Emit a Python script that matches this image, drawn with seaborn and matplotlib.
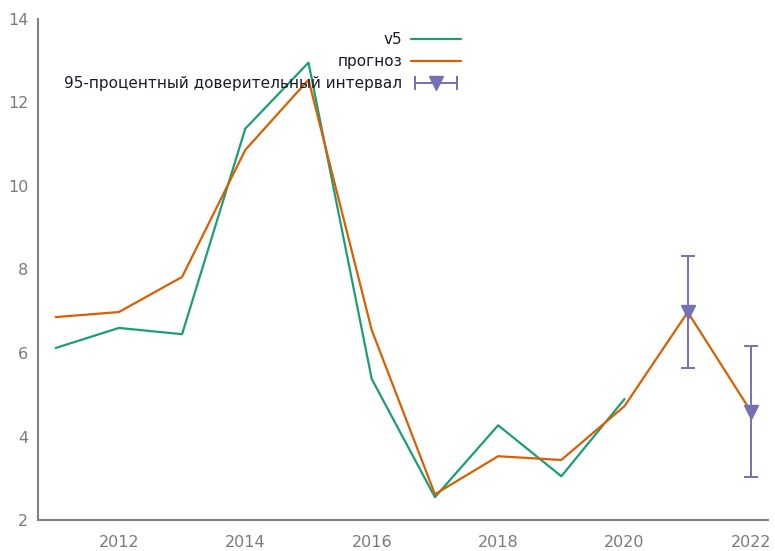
import numpy as np
import pandas as pd
import seaborn as sns
import matplotlib.pyplot as plt
from matplotlib.lines import Line2D
from matplotlib.legend_handler import HandlerLine2D, HandlerTuple

# Datos
anios_v5 = [2011, 2012, 2013, 2014, 2015, 2016, 2017, 2018, 2019, 2020]
v5 = [6.12, 6.6, 6.45, 11.37, 12.95, 5.38, 2.55, 4.27, 3.05, 4.9]

anios_prog = [2011, 2012, 2013, 2014, 2015, 2016, 2017, 2018, 2019, 2020, 2021, 2022]
prognoz = [6.86, 6.98, 7.82, 10.86, 12.54, 6.55, 2.62, 3.53, 3.44, 4.73, 6.98, 4.6]

anios_ic = [2021, 2022]
ic_centro = [6.98, 4.6]
ic_inf = [5.64, 3.03]
ic_sup = [8.32, 6.17]

verde, naranja, morado = sns.color_palette("Dark2", 3)
gris = "#808080"

sns.set_theme(style="white")
plt.rcParams["font.family"] = ["DejaVu Sans"]

fig = plt.figure(figsize=(7.75, 5.51), dpi=100)
ax = fig.add_axes([0.049, 0.056, 0.942, 0.91])

df_v5 = pd.DataFrame({"anio": anios_v5, "valor": v5})
df_prog = pd.DataFrame({"anio": anios_prog, "valor": prognoz})

sns.lineplot(data=df_v5, x="anio", y="valor", color=verde, lw=1.6, ax=ax)
sns.lineplot(data=df_prog, x="anio", y="valor", color=naranja, lw=1.6, ax=ax)

err = [np.array(ic_centro) - np.array(ic_inf), np.array(ic_sup) - np.array(ic_centro)]
ax.errorbar(anios_ic, ic_centro, yerr=err, fmt="v", color=morado, ms=10,
            elinewidth=1.4, capsize=5, capthick=1.4, zorder=3)

ax.set_xlim(2010.72, 2022.27)
ax.set_ylim(2, 14)
ax.set_xticks([2012, 2014, 2016, 2018, 2020, 2022])
ax.set_yticks([2, 4, 6, 8, 10, 12, 14])
ax.set_xlabel("")
ax.set_ylabel("")

for lado in ["top", "right"]:
    ax.spines[lado].set_visible(False)
for lado in ["left", "bottom"]:
    ax.spines[lado].set_color(gris)
    ax.spines[lado].set_linewidth(1.5)

ax.tick_params(direction="in", length=6, width=1.2, color=gris,
               labelcolor="#7a7a7a", labelsize=11.5)
ax.tick_params(axis="y", pad=7)
ax.tick_params(axis="x", pad=11)

# Leyenda al estilo gretl: texto a la izquierda, muestra a la derecha
h_v5 = Line2D([], [], color=verde, lw=1.6)
h_prog = Line2D([], [], color=naranja, lw=1.6)
h_caps = Line2D([], [], color=morado, lw=1.4, marker="|", ms=10, mew=1.4)
h_tri = Line2D([], [], color=morado, ls="none", marker="v", ms=10)

ax.legend([h_v5, h_prog, (h_caps, h_tri)],
          ["v5", "прогноз", "95-процентный доверительный интервал"],
          handler_map={h_caps: HandlerLine2D(numpoints=2),
                       h_tri: HandlerLine2D(numpoints=1),
                       tuple: HandlerTuple(ndivide=1)},
          markerfirst=False, frameon=False, fontsize=11, labelcolor="#1a1a2e",
          handlelength=3.3, handletextpad=0.55, labelspacing=0.45,
          loc="upper right", bbox_to_anchor=(0.613, 0.966),
          bbox_transform=fig.transFigure)

fig.savefig("out.png", dpi=100)
